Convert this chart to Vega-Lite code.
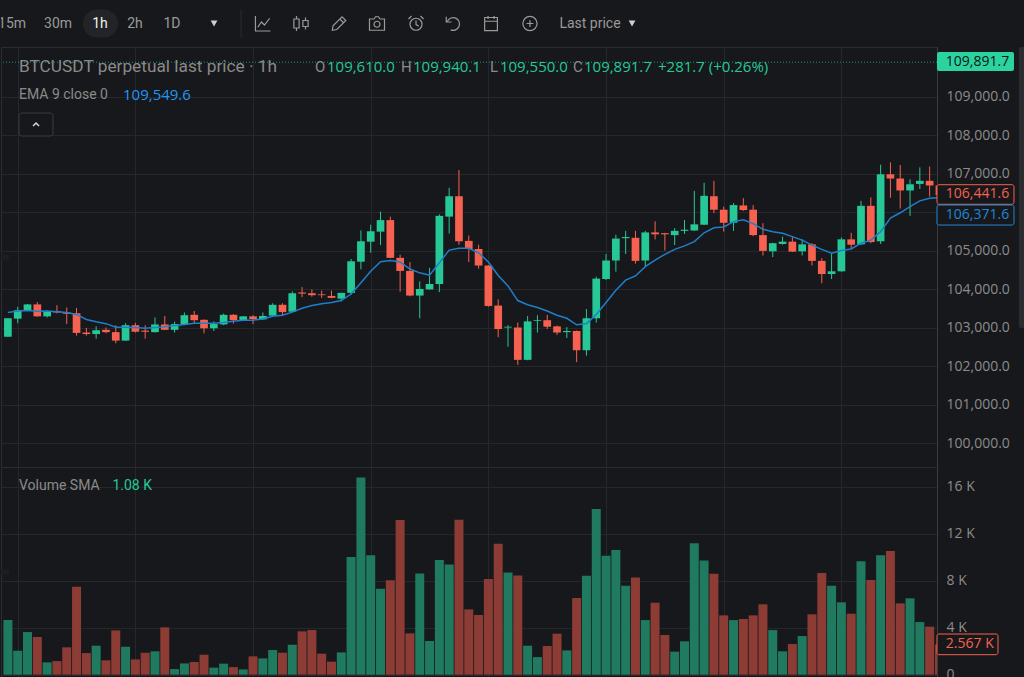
{
  "$schema": "https://vega.github.io/schema/vega-lite/v6.json",
  "padding": 0,
  "spacing": 0,
  "bounds": "flush",
  "background": "#17181b",
  "config": {
    "font": "Roboto",
    "view": {"stroke": "#2a2c30", "fill": "#17181b"},
    "scale": {"continuousPadding": 0},
    "axisRight": {"minExtent": 80, "maxExtent": 80}
  },
  "datasets": {
    "bars": [
      {"i":0,"o":102760,"h":103240,"l":102760,"c":103240,"e":103390,"v":4650,"dir":"up"},
      {"i":1,"o":103230,"h":103540,"l":103110,"c":103450,"e":103430,"v":2040,"dir":"up"},
      {"i":2,"o":103440,"h":103610,"l":103430,"c":103600,"e":103440,"v":3630,"dir":"up"},
      {"i":3,"o":103600,"h":103660,"l":103280,"c":103290,"e":103420,"v":3210,"dir":"down"},
      {"i":4,"o":103290,"h":103450,"l":103260,"c":103430,"e":103430,"v":1050,"dir":"up"},
      {"i":5,"o":103430,"h":103580,"l":103370,"c":103390,"e":103410,"v":1160,"dir":"down"},
      {"i":6,"o":103390,"h":103520,"l":103090,"c":103360,"e":103390,"v":2330,"dir":"down"},
      {"i":7,"o":103370,"h":103510,"l":102790,"c":102860,"e":103340,"v":7490,"dir":"down"},
      {"i":8,"o":102870,"h":102990,"l":102790,"c":102830,"e":103210,"v":1840,"dir":"down"},
      {"i":9,"o":102830,"h":103030,"l":102710,"c":102930,"e":103150,"v":2470,"dir":"up"},
      {"i":10,"o":102940,"h":103000,"l":102850,"c":102880,"e":103100,"v":1220,"dir":"down"},
      {"i":11,"o":102880,"h":103060,"l":102590,"c":102660,"e":103010,"v":3770,"dir":"down"},
      {"i":12,"o":102660,"h":103110,"l":102650,"c":103060,"e":103010,"v":2380,"dir":"up"},
      {"i":13,"o":103060,"h":103120,"l":102870,"c":102890,"e":103000,"v":1300,"dir":"down"},
      {"i":14,"o":102920,"h":103060,"l":102710,"c":102890,"e":102980,"v":1870,"dir":"down"},
      {"i":15,"o":102880,"h":103260,"l":102870,"c":103080,"e":103000,"v":1990,"dir":"up"},
      {"i":16,"o":103080,"h":103300,"l":102930,"c":102940,"e":103020,"v":4030,"dir":"down"},
      {"i":17,"o":102940,"h":103150,"l":102870,"c":103090,"e":103050,"v":480,"dir":"up"},
      {"i":18,"o":103080,"h":103390,"l":103060,"c":103320,"e":103080,"v":960,"dir":"up"},
      {"i":19,"o":103330,"h":103430,"l":103090,"c":103190,"e":103110,"v":1080,"dir":"down"},
      {"i":20,"o":103200,"h":103210,"l":102850,"c":102980,"e":103110,"v":1700,"dir":"down"},
      {"i":21,"o":102980,"h":103160,"l":102910,"c":103090,"e":103110,"v":600,"dir":"up"},
      {"i":22,"o":103080,"h":103360,"l":103060,"c":103330,"e":103130,"v":940,"dir":"up"},
      {"i":23,"o":103330,"h":103350,"l":103100,"c":103190,"e":103160,"v":650,"dir":"down"},
      {"i":24,"o":103190,"h":103300,"l":103180,"c":103290,"e":103190,"v":450,"dir":"up"},
      {"i":25,"o":103290,"h":103320,"l":103090,"c":103220,"e":103190,"v":1560,"dir":"down"},
      {"i":26,"o":103210,"h":103390,"l":103200,"c":103300,"e":103220,"v":1390,"dir":"up"},
      {"i":27,"o":103310,"h":103630,"l":103300,"c":103590,"e":103290,"v":2100,"dir":"up"},
      {"i":28,"o":103590,"h":103630,"l":103310,"c":103400,"e":103320,"v":1870,"dir":"down"},
      {"i":29,"o":103410,"h":103940,"l":103400,"c":103890,"e":103400,"v":2550,"dir":"up"},
      {"i":30,"o":103910,"h":104050,"l":103790,"c":103880,"e":103500,"v":3690,"dir":"down"},
      {"i":31,"o":103890,"h":103990,"l":103800,"c":103840,"e":103570,"v":3800,"dir":"down"},
      {"i":32,"o":103860,"h":103960,"l":103770,"c":103840,"e":103620,"v":1790,"dir":"down"},
      {"i":33,"o":103820,"h":103960,"l":103760,"c":103770,"e":103650,"v":1110,"dir":"down"},
      {"i":34,"o":103750,"h":103900,"l":103680,"c":103900,"e":103700,"v":1900,"dir":"up"},
      {"i":35,"o":103900,"h":104780,"l":103860,"c":104720,"e":103870,"v":10010,"dir":"up"},
      {"i":36,"o":104710,"h":105520,"l":104510,"c":105240,"e":104160,"v":16790,"dir":"up"},
      {"i":37,"o":105230,"h":105670,"l":104940,"c":105500,"e":104460,"v":10160,"dir":"up"},
      {"i":38,"o":105490,"h":106010,"l":105140,"c":105790,"e":104710,"v":7320,"dir":"up"},
      {"i":39,"o":105790,"h":105880,"l":104800,"c":104810,"e":104740,"v":8030,"dir":"down"},
      {"i":40,"o":104810,"h":104890,"l":103930,"c":104470,"e":104700,"v":13160,"dir":"down"},
      {"i":41,"o":104470,"h":104700,"l":103810,"c":103830,"e":104520,"v":3520,"dir":"down"},
      {"i":42,"o":103830,"h":104200,"l":103240,"c":104000,"e":104420,"v":8620,"dir":"up"},
      {"i":43,"o":103990,"h":104550,"l":103990,"c":104130,"e":104360,"v":2870,"dir":"up"},
      {"i":44,"o":104130,"h":105940,"l":103920,"c":105900,"e":104680,"v":9760,"dir":"up"},
      {"i":45,"o":105880,"h":106630,"l":105440,"c":106410,"e":105010,"v":9390,"dir":"up"},
      {"i":46,"o":106410,"h":107090,"l":105150,"c":105240,"e":105060,"v":13190,"dir":"down"},
      {"i":47,"o":105250,"h":105390,"l":104700,"c":105040,"e":105060,"v":5560,"dir":"down"},
      {"i":48,"o":105040,"h":105150,"l":104530,"c":104610,"e":104940,"v":5080,"dir":"down"},
      {"i":49,"o":104610,"h":104620,"l":103540,"c":103560,"e":104700,"v":8140,"dir":"down"},
      {"i":50,"o":103570,"h":103730,"l":102750,"c":102960,"e":104350,"v":11150,"dir":"down"},
      {"i":51,"o":103000,"h":103060,"l":102500,"c":103020,"e":104080,"v":8710,"dir":"up"},
      {"i":52,"o":103000,"h":103130,"l":102030,"c":102160,"e":103700,"v":8450,"dir":"down"},
      {"i":53,"o":102160,"h":103300,"l":102150,"c":103160,"e":103590,"v":2470,"dir":"up"},
      {"i":54,"o":103170,"h":103320,"l":102870,"c":103190,"e":103520,"v":1500,"dir":"up"},
      {"i":55,"o":103190,"h":103330,"l":102960,"c":103020,"e":103430,"v":2440,"dir":"down"},
      {"i":56,"o":103030,"h":103050,"l":102810,"c":102870,"e":103320,"v":3490,"dir":"down"},
      {"i":57,"o":102880,"h":103010,"l":102730,"c":102910,"e":103240,"v":2070,"dir":"up"},
      {"i":58,"o":102910,"h":102920,"l":102100,"c":102410,"e":103070,"v":6530,"dir":"down"},
      {"i":59,"o":102410,"h":103480,"l":102270,"c":103240,"e":103100,"v":8430,"dir":"up"},
      {"i":60,"o":103240,"h":104320,"l":103130,"c":104270,"e":103340,"v":14100,"dir":"up"},
      {"i":61,"o":104260,"h":104910,"l":104230,"c":104740,"e":103650,"v":10130,"dir":"up"},
      {"i":62,"o":104740,"h":105410,"l":104450,"c":105310,"e":103970,"v":10610,"dir":"up"},
      {"i":63,"o":105320,"h":105510,"l":104910,"c":105350,"e":104230,"v":7570,"dir":"up"},
      {"i":64,"o":105330,"h":105510,"l":104660,"c":104730,"e":104340,"v":8280,"dir":"down"},
      {"i":65,"o":104740,"h":105510,"l":104580,"c":105470,"e":104580,"v":4650,"dir":"up"},
      {"i":66,"o":105470,"h":105760,"l":105290,"c":105420,"e":104750,"v":6130,"dir":"down"},
      {"i":67,"o":105450,"h":105460,"l":105000,"c":105420,"e":104900,"v":3380,"dir":"down"},
      {"i":68,"o":105400,"h":105580,"l":105140,"c":105510,"e":105030,"v":1960,"dir":"up"},
      {"i":69,"o":105510,"h":105790,"l":105430,"c":105540,"e":105120,"v":2840,"dir":"up"},
      {"i":70,"o":105520,"h":106550,"l":105510,"c":105680,"e":105230,"v":11180,"dir":"up"},
      {"i":71,"o":105670,"h":106760,"l":105660,"c":106420,"e":105460,"v":9730,"dir":"up"},
      {"i":72,"o":106410,"h":106810,"l":105970,"c":106060,"e":105590,"v":8600,"dir":"down"},
      {"i":73,"o":106060,"h":106140,"l":105490,"c":105720,"e":105610,"v":5050,"dir":"down"},
      {"i":74,"o":105720,"h":106230,"l":105510,"c":106180,"e":105750,"v":4650,"dir":"up"},
      {"i":75,"o":106170,"h":106360,"l":106030,"c":106050,"e":105800,"v":4740,"dir":"down"},
      {"i":76,"o":106060,"h":106180,"l":105370,"c":105400,"e":105700,"v":5050,"dir":"down"},
      {"i":77,"o":105400,"h":105710,"l":104870,"c":104990,"e":105550,"v":5990,"dir":"down"},
      {"i":78,"o":104980,"h":105200,"l":104830,"c":105190,"e":105490,"v":3800,"dir":"up"},
      {"i":79,"o":105170,"h":105360,"l":105150,"c":105230,"e":105450,"v":1990,"dir":"up"},
      {"i":80,"o":105230,"h":105360,"l":104960,"c":104970,"e":105360,"v":2610,"dir":"down"},
      {"i":81,"o":104980,"h":105290,"l":104870,"c":105160,"e":105270,"v":3290,"dir":"up"},
      {"i":82,"o":105160,"h":105190,"l":104610,"c":104730,"e":105140,"v":5140,"dir":"down"},
      {"i":83,"o":104730,"h":104800,"l":104150,"c":104390,"e":105030,"v":8650,"dir":"down"},
      {"i":84,"o":104390,"h":104930,"l":104260,"c":104460,"e":104930,"v":7570,"dir":"up"},
      {"i":85,"o":104460,"h":105340,"l":104450,"c":105290,"e":105000,"v":6160,"dir":"up"},
      {"i":86,"o":105290,"h":105460,"l":105040,"c":105150,"e":105040,"v":5190,"dir":"down"},
      {"i":87,"o":105160,"h":106290,"l":105140,"c":106160,"e":105190,"v":9650,"dir":"up"},
      {"i":88,"o":106160,"h":106380,"l":105190,"c":105220,"e":105270,"v":8060,"dir":"down"},
      {"i":89,"o":105240,"h":107230,"l":105170,"c":106980,"e":105490,"v":10160,"dir":"up"},
      {"i":90,"o":106980,"h":107290,"l":106370,"c":106870,"e":105840,"v":10530,"dir":"down"},
      {"i":91,"o":106870,"h":107220,"l":106090,"c":106560,"e":105980,"v":6070,"dir":"down"},
      {"i":92,"o":106560,"h":106850,"l":105900,"c":106720,"e":106140,"v":6500,"dir":"up"},
      {"i":93,"o":106730,"h":107160,"l":106600,"c":106810,"e":106290,"v":4480,"dir":"up"},
      {"i":94,"o":106810,"h":107180,"l":106400,"c":106690,"e":106360,"v":4090,"dir":"down"},
      {"i":95,"o":106690,"h":106700,"l":106400,"c":106441.6,"e":106371.6,"v":2567,"dir":"down"}
    ]
  },
  "vconcat": [
    {
      "width": 936,
      "height": 47,
      "view": {"stroke": null},
      "layer": [
        {
          "data": {"values": [{"label": "1h"}]},
          "mark": {"type": "bar", "cornerRadius": 14, "color": "#222427"},
          "encoding": {
            "x": {"datum": 7.66, "type": "quantitative", "scale": {"domain": [-0.704, 94.75]}, "axis": null},
            "x2": {"datum": 11.23},
            "y": {"datum": -0.6, "type": "quantitative", "scale": {"domain": [-1, 1]}, "axis": null},
            "y2": {"datum": 0.6}
          }
        },
        {
          "data": {"values": [
            {"label":"15m","i":0.42,"tone":"idle"},
            {"label":"30m","i":5.11,"tone":"idle"},
            {"label":"1h","i":9.39,"tone":"active"},
            {"label":"2h","i":12.96,"tone":"idle"},
            {"label":"1D","i":16.73,"tone":"idle"},
            {"label":"Last price","i":59.36,"tone":"idle"}
          ]},
          "mark": {"type": "text", "fontSize": 14, "clip": true},
          "encoding": {
            "x": {"field": "i", "type": "quantitative", "scale": {"domain": [-0.704, 94.75]}, "axis": null},
            "y": {"datum": 0, "type": "quantitative", "scale": {"domain": [-1, 1]}, "axis": null},
            "text": {"field": "label"},
            "color": {
              "field": "tone",
              "scale": {"domain": ["idle", "active"], "range": ["#9a9a9a", "#f0f0f0"]},
              "legend": null
            }
          }
        },
        {
          "data": {"values": [{"i": 21.02}, {"i": 63.65}]},
          "mark": {"type": "point", "shape": "triangle-down", "filled": true, "size": 45, "opacity": 1, "color": "#cfcfcf"},
          "encoding": {
            "x": {"field": "i", "type": "quantitative", "scale": {"domain": [-0.704, 94.75]}, "axis": null},
            "y": {"datum": 0, "type": "quantitative", "scale": {"domain": [-1, 1]}, "axis": null}
          }
        },
        {
          "data": {"values": [{"label": "separator"}]},
          "mark": {"type": "rule", "color": "#2a2c30"},
          "encoding": {
            "x": {"datum": 23.78, "type": "quantitative", "scale": {"domain": [-0.704, 94.75]}, "axis": null},
            "y": {"datum": -0.6, "type": "quantitative", "scale": {"domain": [-1, 1]}, "axis": null},
            "y2": {"datum": 0.6}
          }
        },
        {
          "data": {"values": [
            {"icon":"chart","i":26.01},
            {"icon":"candles","i":29.89},
            {"icon":"pencil","i":33.77},
            {"icon":"camera","i":37.64},
            {"icon":"alarm","i":41.62},
            {"icon":"undo","i":45.39},
            {"icon":"calendar","i":49.27},
            {"icon":"add","i":53.24}
          ]},
          "mark": {"type": "point", "filled": false, "size": 225, "strokeWidth": 1.2, "opacity": 1, "color": "#9a9a9a"},
          "encoding": {
            "x": {"field": "i", "type": "quantitative", "scale": {"domain": [-0.704, 94.75]}, "axis": null},
            "y": {"datum": 0, "type": "quantitative", "scale": {"domain": [-1, 1]}, "axis": null},
            "shape": {
              "field": "icon",
              "legend": null,
              "scale": {
                "domain": ["chart","candles","pencil","camera","alarm","undo","calendar","add"],
                "range": [
                  "M-1,-1V1H1M-0.7,0.5L-0.2,-0.2L0.2,0.2L0.9,-0.7",
                  "M-0.95,-0.6H-0.25V0.6H-0.95ZM-0.6,-1V-0.6M-0.6,0.6V1M0.25,-0.4H0.95V0.4H0.25ZM0.6,-0.8V-0.4M0.6,0.4V0.8",
                  "M-0.9,0.9L-0.8,0.3L0.4,-0.9L0.9,-0.4L-0.3,0.8ZM0.1,-0.6L0.6,-0.1",
                  "M-1,-0.6H-0.4L-0.2,-0.9H0.2L0.4,-0.6H1V0.9H-1ZM0.4,0.1A0.4,0.4 0 1 1 -0.4,0.1A0.4,0.4 0 1 1 0.4,0.1Z",
                  "M0.8,0.1A0.8,0.8 0 1 1 -0.8,0.1A0.8,0.8 0 1 1 0.8,0.1ZM0,-0.4V0.15L0.35,0.35M-1,-0.6L-0.6,-1M1,-0.6L0.6,-1",
                  "M-0.75,-0.3A0.85,0.85 0 1 1 -0.3,0.85M-0.9,-0.9V-0.2H-0.2",
                  "M-0.85,-0.8H0.85V0.95H-0.85ZM-0.85,-0.3H0.85M-0.4,-1V-0.6M0.4,-1V-0.6",
                  "M0.95,0A0.95,0.95 0 1 1 -0.95,0A0.95,0.95 0 1 1 0.95,0ZM-0.45,0H0.45M0,-0.45V0.45"
                ]
              }
            }
          }
        }
      ]
    },
    {
      "width": 936,
      "height": 420,
      "data": {"name": "bars"},
      "layer": [
        {
          "mark": {"type": "rule", "clip": true, "strokeWidth": 1},
          "encoding": {
            "x": {
              "field": "i",
              "type": "quantitative",
              "scale": {"domain": [-0.704, 94.75]},
              "axis": {"orient": "bottom", "values": [1,13,25,37,49,61,73,85], "grid": true, "gridColor": "#25272b", "labels": false, "ticks": false, "domain": false, "title": null}
            },
            "y": {
              "field": "l",
              "type": "quantitative",
              "scale": {"domain": [99377, 110286]},
              "axis": {
                "orient": "right",
                "values": [100000,101000,102000,103000,104000,105000,106000,107000,108000,109000],
                "format": ",.1f",
                "grid": true,
                "gridColor": "#25272b",
                "domainColor": "#3a3c40",
                "ticks": false,
                "labelColor": "#8c8c8c",
                "labelFont": "Open Sans",
                "labelFontSize": 14,
                "labelPadding": 9,
                "title": null
              }
            },
            "y2": {"field": "h"},
            "color": {
              "field": "dir",
              "scale": {
                "domain": ["up", "down", "ema", "muted"],
                "range": ["#26c897", "#f7614f", "#1e88d8", "#8a8a8a"]
              },
              "legend": null
            }
          }
        },
        {
          "mark": {"type": "bar", "clip": true, "size": 7.7},
          "encoding": {
            "x": {"field": "i", "type": "quantitative", "scale": {"domain": [-0.704, 94.75]}},
            "y": {"field": "o", "type": "quantitative", "stack": null, "scale": {"domain": [99377, 110286]}},
            "y2": {"field": "c"},
            "color": {"field": "dir", "legend": null}
          }
        },
        {
          "mark": {"type": "line", "clip": true, "strokeWidth": 1.5, "color": "#1e7fcc"},
          "encoding": {
            "x": {"field": "i", "type": "quantitative", "scale": {"domain": [-0.704, 94.75]}},
            "y": {"field": "e", "type": "quantitative", "scale": {"domain": [99377, 110286]}}
          }
        },
        {
          "data": {"values": [{"label": "last price"}]},
          "mark": {"type": "rule", "strokeDash": [1, 2], "color": "#26c897", "opacity": 0.7},
          "encoding": {
            "y": {"datum": 109891.7, "type": "quantitative", "scale": {"domain": [99377, 110286]}}
          }
        },
        {
          "data": {"values": [{"label": "left strip"}]},
          "mark": {"type": "bar", "color": "#1d1e21"},
          "encoding": {
            "x": {"datum": -0.704, "type": "quantitative", "scale": {"domain": [-0.704, 94.75]}},
            "x2": {"datum": 0.11}
          }
        },
        {
          "data": {"values": [{"label": "scrollbar", "lo": 102987, "hi": 110286}]},
          "mark": {"type": "bar", "color": "#2b2c2f", "cornerRadius": 2},
          "encoding": {
            "x": {"datum": 103.1, "type": "quantitative", "scale": {"domain": [-0.704, 94.75]}},
            "x2": {"datum": 103.72},
            "y": {"field": "lo", "type": "quantitative", "scale": {"domain": [99377, 110286]}},
            "y2": {"field": "hi"}
          }
        },
        {
          "data": {"values": [
            {"label": "O", "i": 31.32, "tone": "muted"},
            {"label": "H", "i": 40.09, "tone": "muted"},
            {"label": "L", "i": 49.16, "tone": "muted"},
            {"label": "C", "i": 57.63, "tone": "muted"}
          ]},
          "mark": {"type": "text", "align": "left", "fontSize": 15},
          "encoding": {
            "x": {"field": "i", "type": "quantitative", "scale": {"domain": [-0.704, 94.75]}},
            "y": {"datum": 109766, "type": "quantitative", "scale": {"domain": [99377, 110286]}},
            "text": {"field": "label"},
            "color": {"field": "tone", "legend": null}
          }
        },
        {
          "data": {"values": [
            {"label": "109,610.0", "i": 32.54, "tone": "up"},
            {"label": "109,940.1", "i": 41.31, "tone": "up"},
            {"label": "109,550.0", "i": 50.18, "tone": "up"},
            {"label": "109,891.7", "i": 58.75, "tone": "up"},
            {"label": "+281.7 (+0.26%)", "i": 66.3, "tone": "up"}
          ]},
          "mark": {"type": "text", "align": "left", "fontSize": 15, "font": "Open Sans"},
          "encoding": {
            "x": {"field": "i", "type": "quantitative", "scale": {"domain": [-0.704, 94.75]}},
            "y": {"datum": 109766, "type": "quantitative", "scale": {"domain": [99377, 110286]}},
            "text": {"field": "label"},
            "color": {"field": "tone", "legend": null}
          }
        },
        {
          "data": {"values": [{"label": "BTCUSDT perpetual last price · 1h"}]},
          "mark": {"type": "text", "align": "left", "fontSize": 17.3, "color": "#8a8a8a"},
          "encoding": {
            "x": {"datum": 1.13, "type": "quantitative", "scale": {"domain": [-0.704, 94.75]}},
            "y": {"datum": 109766, "type": "quantitative", "scale": {"domain": [99377, 110286]}},
            "text": {"field": "label"}
          }
        },
        {
          "data": {"values": [{"label": "EMA 9 close 0"}]},
          "mark": {"type": "text", "align": "left", "fontSize": 14, "color": "#8a8a8a"},
          "encoding": {
            "x": {"datum": 1.13, "type": "quantitative", "scale": {"domain": [-0.704, 94.75]}},
            "y": {"datum": 109039, "type": "quantitative", "scale": {"domain": [99377, 110286]}},
            "text": {"field": "label"}
          }
        },
        {
          "data": {"values": [{"label": "109,549.6"}]},
          "mark": {"type": "text", "align": "left", "fontSize": 15, "font": "Open Sans", "color": "#2196f3"},
          "encoding": {
            "x": {"datum": 11.74, "type": "quantitative", "scale": {"domain": [-0.704, 94.75]}},
            "y": {"datum": 109039, "type": "quantitative", "scale": {"domain": [99377, 110286]}},
            "text": {"field": "label"}
          }
        },
        {
          "data": {"values": [{"label": "collapse"}]},
          "mark": {"type": "bar", "cornerRadius": 3, "color": "#17181b", "stroke": "#3a3c40"},
          "encoding": {
            "x": {"datum": 1.13, "type": "quantitative", "scale": {"domain": [-0.704, 94.75]}},
            "x2": {"datum": 4.6},
            "y": {"datum": 108571, "type": "quantitative", "scale": {"domain": [99377, 110286]}},
            "y2": {"datum": 107974}
          }
        },
        {
          "data": {"values": [{"label": "collapse"}]},
          "mark": {"type": "point", "shape": "M-1,0.5L0,-0.5L1,0.5", "filled": false, "size": 36, "strokeWidth": 1.5, "color": "#d8d8d8", "opacity": 1},
          "encoding": {
            "x": {"datum": 2.87, "type": "quantitative", "scale": {"domain": [-0.704, 94.75]}},
            "y": {"datum": 108273, "type": "quantitative", "scale": {"domain": [99377, 110286]}}
          }
        },
        {
          "data": {"values": [{"label": "109,891.7", "lo": 109662, "hi": 110156, "at": 109909}]},
          "mark": {"type": "bar", "color": "#2bd49f", "cornerRadius": 2},
          "encoding": {
            "x": {"datum": 94.75, "type": "quantitative", "scale": {"domain": [-0.704, 94.75]}},
            "x2": {"datum": 102.6},
            "y": {"field": "lo", "type": "quantitative", "scale": {"domain": [99377, 110286]}},
            "y2": {"field": "hi"}
          }
        },
        {
          "data": {"values": [{"label": "109,891.7", "lo": 109662, "hi": 110156, "at": 109909}]},
          "mark": {"type": "text", "align": "left", "fontSize": 14, "font": "Open Sans", "color": "#10141a"},
          "encoding": {
            "x": {"datum": 95.65, "type": "quantitative", "scale": {"domain": [-0.704, 94.75]}},
            "y": {"field": "at", "type": "quantitative", "scale": {"domain": [99377, 110286]}},
            "text": {"field": "label"}
          }
        },
        {
          "data": {"values": [
            {"label": "106,441.6", "lo": 106200, "hi": 106709, "at": 106455, "tone": "down"},
            {"label": "106,371.6", "lo": 105662, "hi": 106182, "at": 105922, "tone": "ema"}
          ]},
          "mark": {"type": "bar", "fill": "#17181b", "strokeWidth": 1, "cornerRadius": 2},
          "encoding": {
            "x": {"datum": 94.75, "type": "quantitative", "scale": {"domain": [-0.704, 94.75]}},
            "x2": {"datum": 102.6},
            "y": {"field": "lo", "type": "quantitative", "scale": {"domain": [99377, 110286]}},
            "y2": {"field": "hi"},
            "stroke": {
              "field": "tone",
              "scale": {"domain": ["down", "ema"], "range": ["#f7614f", "#1e88d8"]},
              "legend": null
            }
          }
        },
        {
          "data": {"values": [
            {"label": "106,441.6", "lo": 106200, "hi": 106709, "at": 106455, "tone": "down"},
            {"label": "106,371.6", "lo": 105662, "hi": 106182, "at": 105922, "tone": "ema"}
          ]},
          "mark": {"type": "text", "align": "left", "fontSize": 14, "font": "Open Sans"},
          "encoding": {
            "x": {"datum": 95.65, "type": "quantitative", "scale": {"domain": [-0.704, 94.75]}},
            "y": {"field": "at", "type": "quantitative", "scale": {"domain": [99377, 110286]}},
            "text": {"field": "label"},
            "color": {"field": "tone", "legend": null}
          }
        }
      ]
    },
    {
      "width": 936,
      "height": 210,
      "data": {"name": "bars"},
      "layer": [
        {
          "mark": {"type": "bar", "clip": true, "size": 9, "orient": "vertical"},
          "encoding": {
            "x": {
              "field": "i",
              "type": "quantitative",
              "scale": {"domain": [-0.704, 94.75]},
              "axis": {"orient": "bottom", "values": [1,13,25,37,49,61,73,85], "grid": true, "gridColor": "#25272b", "labels": false, "ticks": false, "domain": false, "title": null}
            },
            "y": {
              "field": "v",
              "type": "quantitative",
              "stack": null,
              "scale": {"domain": [-196, 17680]},
              "axis": {
                "orient": "right",
                "values": [0, 4000, 8000, 12000, 16000],
                "labelExpr": "datum.value === 0 ? '0' : (datum.value / 1000) + ' K'",
                "grid": true,
                "gridColor": "#25272b",
                "domainColor": "#3a3c40",
                "ticks": false,
                "labelColor": "#8c8c8c",
                "labelFont": "Open Sans",
                "labelFontSize": 14,
                "labelPadding": 9,
                "title": null
              }
            },
            "color": {
              "field": "dir",
              "scale": {"domain": ["up", "down"], "range": ["#1f7a5f", "#8c3c34"]},
              "legend": null
            }
          }
        },
        {
          "data": {"values": [{"label": "left strip"}]},
          "mark": {"type": "bar", "color": "#1d1e21"},
          "encoding": {
            "x": {"datum": -0.704, "type": "quantitative", "scale": {"domain": [-0.704, 94.75]}},
            "x2": {"datum": 0.11}
          }
        },
        {
          "data": {"values": [{"label": "Volume SMA"}]},
          "mark": {"type": "text", "align": "left", "fontSize": 14, "color": "#8a8a8a"},
          "encoding": {
            "x": {"datum": 1.13, "type": "quantitative", "scale": {"domain": [-0.704, 94.75]}},
            "y": {"datum": 16060, "type": "quantitative", "scale": {"domain": [-196, 17680]}},
            "text": {"field": "label"}
          }
        },
        {
          "data": {"values": [{"label": "1.08 K"}]},
          "mark": {"type": "text", "align": "left", "fontSize": 14, "color": "#26c897"},
          "encoding": {
            "x": {"datum": 10.66, "type": "quantitative", "scale": {"domain": [-0.704, 94.75]}},
            "y": {"datum": 16060, "type": "quantitative", "scale": {"domain": [-196, 17680]}},
            "text": {"field": "label"}
          }
        },
        {
          "data": {"values": [{"label": "2.567 K", "lo": 1702, "hi": 3464, "at": 2587}]},
          "mark": {"type": "bar", "fill": "#17181b", "stroke": "#f7614f", "strokeWidth": 1, "cornerRadius": 2},
          "encoding": {
            "x": {"datum": 94.75, "type": "quantitative", "scale": {"domain": [-0.704, 94.75]}},
            "x2": {"datum": 100.97},
            "y": {"field": "lo", "type": "quantitative", "scale": {"domain": [-196, 17680]}},
            "y2": {"field": "hi"}
          }
        },
        {
          "data": {"values": [{"label": "2.567 K", "lo": 1702, "hi": 3464, "at": 2587}]},
          "mark": {"type": "text", "align": "left", "fontSize": 14, "font": "Open Sans", "color": "#f7614f"},
          "encoding": {
            "x": {"datum": 95.65, "type": "quantitative", "scale": {"domain": [-0.704, 94.75]}},
            "y": {"field": "at", "type": "quantitative", "scale": {"domain": [-196, 17680]}},
            "text": {"field": "label"}
          }
        }
      ]
    }
  ],
  "resolve": {"scale": {"color": "independent"}}
}
